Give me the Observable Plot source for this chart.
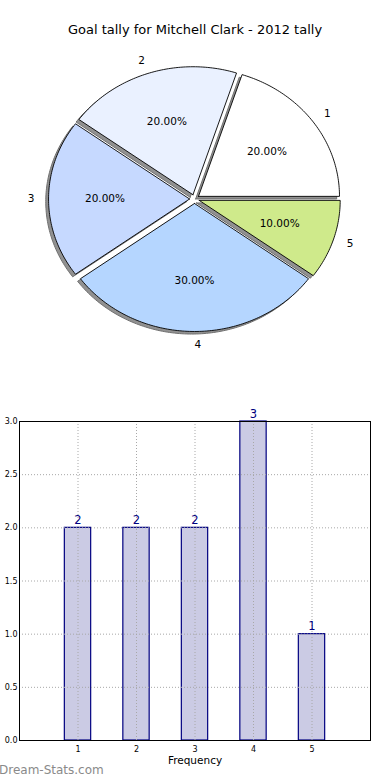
<!DOCTYPE html>
<html><head><meta charset="utf-8">
<script src="https://cdn.jsdelivr.net/npm/d3@7"></script>
<script src="https://cdn.jsdelivr.net/npm/@observablehq/plot@0.6"></script>
<style>
body{margin:0;background:#fff;width:390px;height:780px;position:relative;overflow:hidden;font-family:"DejaVu Sans",sans-serif}
#pie{position:absolute;top:0;left:0}
#title{position:absolute;top:22px;left:0;width:390px;text-align:center;font-size:13px;line-height:15px;color:#000}
#bar{position:absolute;top:380px;left:0}
#wm{position:absolute;left:-1px;top:763px;font-size:12px;line-height:14px;color:#8a8a8a}
</style></head><body>
<div id="pie"></div>
<div id="title">Goal tally for Mitchell Clark - 2012 tally</div>
<div id="bar"></div>
<div id="wm">Dream-Stats.com</div>
<script>
const categories = ["1", "2", "3", "4", "5"];
const goals = [2, 2, 2, 3, 1];
const sliceColors = ["#ffffff", "#eaf1ff", "#c6d9ff", "#b5d6ff", "#cfea8b"];
const xTicks = [1, 2, 3, 4, 5];
const yTicks = [0, 0.5, 1, 1.5, 2, 2.5, 3];
const chartTitle = "Goal tally for Mitchell Clark - 2012 tally";
const xLabel = "Frequency";

document.getElementById("title").textContent = chartTitle;

// ---- pie geometry (matplotlib style: start at east, counter-clockwise) ----
const total = d3.sum(goals);
const explode = 0.035;
let acc = 0;
const slices = categories.map((c, i) => {
  const a0 = acc / total * 2 * Math.PI;
  acc += goals[i];
  const a1 = acc / total * 2 * Math.PI;
  const mid = (a0 + a1) / 2;
  return {c, v: goals[i], a0, a1, mid, dx: explode * Math.cos(mid), dy: explode * Math.sin(mid),
          pct: (goals[i] / total * 100).toFixed(2) + "%"};
});
function wedge(s, ox, oy) {
  const pts = [{c: s.c, x: s.dx + ox, y: s.dy + oy}];
  const n = Math.ceil((s.a1 - s.a0) / (Math.PI / 180));
  for (let k = 0; k <= n; k++) {
    const a = s.a0 + (s.a1 - s.a0) * k / n;
    pts.push({c: s.c, x: s.dx + ox + Math.cos(a), y: s.dy + oy + Math.sin(a)});
  }
  pts.push({c: s.c, x: s.dx + ox, y: s.dy + oy});
  return pts;
}
const wedgePts = slices.flatMap(s => wedge(s, 0, 0));
const shadowPts = slices.flatMap(s => wedge(s, -0.02, -0.02));
const labelR = 1.1, pctR = 0.6;
const lx = s => s.dx + labelR * Math.cos(s.mid);
const ly = s => s.dy + labelR * Math.sin(s.mid);
const rightSide = slices.filter(s => Math.cos(s.mid) > -1e-9);
const leftSide = slices.filter(s => Math.cos(s.mid) <= -1e-9);

const pie = Plot.plot({
  width: 390, height: 380, margin: 0,
  x: {domain: [-1, 1], range: [53, 335], axis: null},
  y: {domain: [-1, 1], range: [326.5, 70.5], axis: null},
  color: {type: "ordinal", domain: categories, range: sliceColors},
  style: {fontFamily: "DejaVu Sans", fontSize: "10.5px", background: "#fff", overflow: "visible"},
  marks: [
    Plot.line(shadowPts, {x: "x", y: "y", z: "c", fill: "#919191", stroke: "#707070", strokeWidth: 1}),
    Plot.line(wedgePts, {x: "x", y: "y", z: "c", fill: "c", stroke: "#000", strokeWidth: 0.9, strokeLinejoin: "miter", strokeMiterlimit: 10}),
    Plot.text(rightSide, {x: lx, y: ly, text: "c", textAnchor: "start", fill: "#000"}),
    Plot.text(leftSide, {x: lx, y: ly, text: "c", textAnchor: "end", fill: "#000"}),
    Plot.text(slices, {x: s => s.dx + pctR * Math.cos(s.mid), y: s => s.dy + pctR * Math.sin(s.mid), text: "pct", fill: "#000"})
  ]
});
document.getElementById("pie").append(pie);

// ---- bar chart ----
const barData = categories.map((c, i) => ({x: +c, v: goals[i]}));
const barW = 0.45;
const bar = Plot.plot({
  width: 390, height: 400,
  marginTop: 41, marginBottom: 40, marginLeft: 19, marginRight: 20,
  x: {domain: [0, 6], axis: null},
  y: {domain: [0, 3], axis: null},
  style: {fontFamily: "DejaVu Sans", fontSize: "8px", background: "#fff", overflow: "visible"},
  marks: [
    Plot.rectY(barData, {x1: d => d.x - barW / 2, x2: d => d.x + barW / 2, y1: 0, y2: "v",
      fill: "#cbcbe4", stroke: "#000080", strokeWidth: 1.2}),
    Plot.gridX(xTicks, {stroke: "#a8a8a8", strokeOpacity: 1, strokeDasharray: "1,2"}),
    Plot.gridY(yTicks, {stroke: "#a8a8a8", strokeOpacity: 1, strokeDasharray: "1,2"}),
    Plot.frame({stroke: "#000", strokeWidth: 1}),
    Plot.text(barData, {x: "x", y: "v", text: d => String(d.v), lineAnchor: "bottom", dy: -4, fill: "#000080", fontSize: 11.5}),
    Plot.axisX(xTicks, {anchor: "bottom", tickSize: 0, tickPadding: 6, tickFormat: d => String(d), label: null, fill: "#000"}),
    Plot.axisY(yTicks, {anchor: "left", tickSize: 0, tickPadding: 2, tickFormat: d3.format(".1f"), label: null, fill: "#000"}),
    Plot.text([xLabel], {frameAnchor: "bottom", lineAnchor: "middle", text: d => d, dy: 20, fontSize: 10.5, fill: "#000"})
  ]
});
document.getElementById("bar").append(bar);
</script>
</body></html>
